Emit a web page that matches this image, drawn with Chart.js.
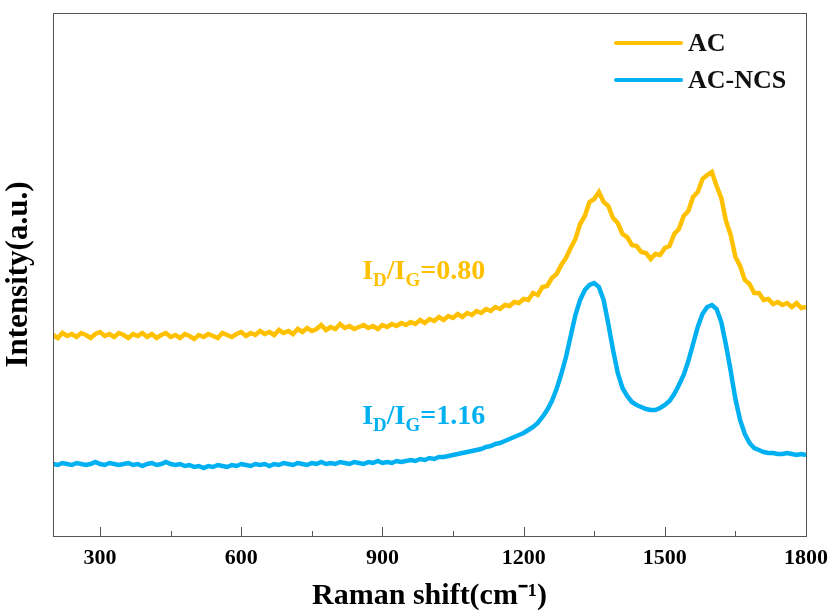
<!DOCTYPE html>
<html>
<head>
<meta charset="utf-8">
<script src="https://cdn.jsdelivr.net/npm/chart.js@4.4.1/dist/chart.umd.min.js"></script>
<style>
  html, body { margin: 0; padding: 0; background: #fff; }
  #wrap { width: 835px; height: 614px; }
</style>
</head>
<body>
<div id="wrap"><canvas id="raman"></canvas></div>
<script>
// Raman shift, 200..1800 cm-1 every 10
const shift = [];
for (let s = 200; s <= 1800; s += 10) shift.push(s);

const acValues = [
  201, 198, 203, 200, 202, 199, 203, 201, 198, 202,
  204, 200, 202, 199, 203, 201, 198, 202, 200, 203,
  199, 202, 198, 201, 203, 199, 201, 198, 202, 200,
  197, 201, 199, 202, 200, 198, 203, 201, 199, 202,
  204, 200, 203, 201, 205, 202, 204, 201, 206, 203,
  205, 202, 207, 204, 208, 205, 207, 211, 206, 209,
  207, 212, 208, 210, 207, 209, 211, 208, 210, 207,
  211, 209, 212, 210, 213, 211, 214, 212, 216, 213,
  217, 215, 219, 216, 220, 218, 222, 219, 223, 221,
  225, 223, 227, 225, 229, 227, 231, 230, 234, 233,
  237, 236, 243, 241, 249, 250, 258, 262, 271, 278,
  288, 297, 312, 320, 334, 337, 344, 334, 330, 318,
  313, 302, 299, 291, 290, 284, 283, 277, 282, 281,
  288, 290, 302, 307, 320, 325, 339, 344, 357, 361,
  364, 350, 338, 315, 301, 279, 270, 256, 252, 243,
  243, 236, 237, 232, 234, 231, 233, 229, 233, 228,
  229
];

const acNcsValues = [
  72, 71, 73, 72, 71, 73, 72, 71, 72, 74,
  72, 71, 73, 72, 71, 72, 73, 71, 72, 70,
  72, 73, 71, 72, 74, 72, 71, 72, 70, 71,
  69, 70, 68, 70, 69, 71, 70, 69, 71, 70,
  72, 71, 70, 72, 71, 72, 70, 72, 71, 73,
  72, 71, 73, 72, 71, 73, 72, 74, 72, 73,
  72, 74, 73, 72, 74, 73, 72, 74, 73, 75,
  73, 74, 73, 75, 74, 75, 76, 75, 77, 76,
  78, 77, 79, 79, 80, 81, 82, 83, 84, 85,
  86, 87, 89, 90, 92, 93, 95, 97, 99, 101,
  103, 106, 109, 113, 119, 126, 135, 147, 162, 179,
  200, 221, 236, 246, 251, 253, 249, 236, 212, 186,
  163, 148, 140, 134, 131, 129, 127, 126, 126, 128,
  131, 135, 142, 151, 161, 175, 192, 209, 222, 229,
  231, 227, 214, 191, 165, 137, 116, 102, 93, 88,
  86, 84, 83, 83, 82, 82, 83, 82, 81, 82,
  81
];

const seriesNames = ['AC', 'AC-NCS'];
const seriesColors = ['#FFC000', '#00B0F0'];
const xTicks = [300, 600, 900, 1200, 1500, 1800];
const xMinorTicks = [450, 750, 1050, 1350, 1650];

// ratio labels: value text and anchor (x, y) in data units
const ratioText = ['0.80', '1.16'];
const ratioPos = [[857, 266], [857, 121]];

const serif = '"Liberation Serif", "Times New Roman", serif';

function toPoints(vals) {
  return vals.map((v, i) => ({ x: shift[i], y: v }));
}

const decor = {
  id: 'decor',
  afterDraw(chart) {
    const ctx = chart.ctx;
    const a = chart.chartArea;
    const xs = chart.scales.x;
    const ys = chart.scales.y;
    ctx.save();
    // frame
    ctx.strokeStyle = '#555';
    ctx.lineWidth = 1;
    ctx.strokeRect(a.left + 0.5, a.top + 0.5, a.right - a.left, a.bottom - a.top);
    // inward ticks
    ctx.beginPath();
    xTicks.forEach(t => {
      const px = Math.round(xs.getPixelForValue(t)) + 0.5;
      ctx.moveTo(px, a.bottom); ctx.lineTo(px, a.bottom - 9);
    });
    xMinorTicks.forEach(t => {
      const px = Math.round(xs.getPixelForValue(t)) + 0.5;
      ctx.moveTo(px, a.bottom); ctx.lineTo(px, a.bottom - 5);
    });
    ctx.stroke();

    // ratio labels with subscripts
    ratioText.forEach((txt, i) => {
      let x = xs.getPixelForValue(ratioPos[i][0]);
      const y = ys.getPixelForValue(ratioPos[i][1]);
      ctx.fillStyle = seriesColors[i];
      ctx.textBaseline = 'alphabetic';
      ctx.textAlign = 'left';
      const big = 'bold 28px ' + serif;
      const small = 'bold 19px ' + serif;
      const parts = [['I', big, 0], ['D', small, 7], ['/I', big, 0], ['G', small, 7], ['=' + txt, big, 0]];
      parts.forEach(p => {
        ctx.font = p[1];
        ctx.fillText(p[0], x, y + 9 + p[2]);
        x += ctx.measureText(p[0]).width;
      });
    });

    // legend
    const lx = 616, lw = 65;
    seriesNames.forEach((name, i) => {
      const ly = 43 + i * 37;
      ctx.strokeStyle = seriesColors[i];
      ctx.lineWidth = 4;
      ctx.lineCap = 'round';
      ctx.beginPath();
      ctx.moveTo(lx, ly); ctx.lineTo(lx + lw, ly);
      ctx.stroke();
      ctx.fillStyle = '#111';
      ctx.font = 'bold 26px ' + serif;
      ctx.textBaseline = 'middle';
      ctx.fillText(name, lx + lw + 7, ly + 1);
    });
    ctx.restore();
  }
};

new Chart(document.getElementById('raman'), {
  type: 'line',
  data: {
    datasets: seriesNames.map((name, i) => ({
      label: name,
      data: toPoints(i === 0 ? acValues : acNcsValues),
      borderColor: seriesColors[i],
      borderWidth: 4.5,
      pointRadius: 0,
      tension: 0,
      fill: false
    }))
  },
  options: {
    responsive: true,
    maintainAspectRatio: false,
    animation: false,
    events: [],
    layout: { padding: { top: 13, right: 29, left: 0, bottom: 0 } },
    plugins: { legend: { display: false }, tooltip: { enabled: false } },
    scales: {
      x: {
        type: 'linear',
        min: 200,
        max: 1800,
        afterBuildTicks: s => { s.ticks = xTicks.map(v => ({ value: v })); },
        afterFit: s => { s.height = 78; },
        grid: { display: false },
        border: { display: false },
        ticks: {
          color: '#000',
          font: { family: serif, size: 22, weight: 'bold' },
          padding: 1,
          maxRotation: 0,
          callback: v => String(v)
        },
        title: {
          display: true,
          text: 'Raman shift(cm\u207B\u00B9)',
          color: '#000',
          font: { family: serif, size: 30, weight: 'bold' },
          padding: { top: 0, bottom: 0 }
        }
      },
      y: {
        min: 0,
        max: 523,
        afterFit: s => { s.width = 53; },
        grid: { display: false },
        border: { display: false },
        ticks: { display: false },
        title: {
          display: true,
          text: 'Intensity(a.u.)',
          color: '#000',
          font: { family: serif, size: 31, weight: 'bold' },
          padding: { top: 0, bottom: 4 }
        }
      }
    }
  },
  plugins: [decor]
});
</script>
</body>
</html>
